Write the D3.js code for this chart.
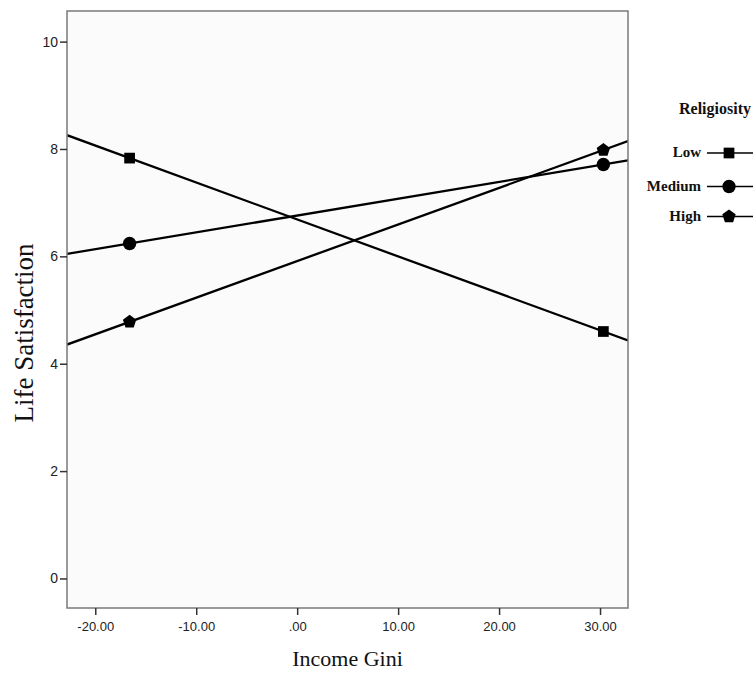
<!DOCTYPE html>
<html><head><meta charset="utf-8">
<script src="https://cdn.jsdelivr.net/npm/d3@7"></script>
<style>body{margin:0;background:#fff}svg{display:block}</style>
</head><body>
<svg id="c" width="753" height="675"></svg>
<script>
const groups = ["Low", "Medium", "High"];
const xPoints = [-16.6, 30.33];
const lowValues = [7.83, 4.60];
const mediumValues = [6.24, 7.71];
const highValues = [4.78, 7.98];
const xTicks = [-20, -10, 0, 10, 20, 30];
const xTickLabels = ["-20.00", "-10.00", ".00", "10.00", "20.00", "30.00"];
const yTicks = [0, 2, 4, 6, 8, 10];
const seriesValues = [lowValues, mediumValues, highValues];
const markerTypes = [d3.symbolSquare, d3.symbolCircle, "pentagon"];

const svg = d3.select("#c");
const m = {l: 67, r: 628, t: 11, b: 608};
const x = d3.scaleLinear().domain([-22.8, 32.77]).range([m.l, m.r]);
const y = d3.scaleLinear().domain([-0.55, 10.57]).range([m.b, m.t]);

svg.append("rect").attr("x", m.l).attr("y", m.t).attr("width", m.r - m.l).attr("height", m.b - m.t)
  .attr("fill", "#fbfbfb");

svg.append("defs").append("clipPath").attr("id", "clip").append("rect")
  .attr("x", m.l).attr("y", m.t).attr("width", m.r - m.l).attr("height", m.b - m.t);

function pentagon(r) {
  const pts = d3.range(5).map(i => {
    const a = -Math.PI / 2 + i * 2 * Math.PI / 5;
    return [r * Math.cos(a), r * Math.sin(a)];
  });
  return "M" + pts.map(p => p.join(",")).join("L") + "Z";
}
function markerPath(t, sizeScale) {
  if (t === "pentagon") return pentagon(7 * sizeScale);
  return d3.symbol().type(t).size((t === d3.symbolCircle ? 140 : 115) * sizeScale * sizeScale)();
}

// lines
const g = svg.append("g").attr("clip-path", "url(#clip)");
const [xd0, xd1] = x.domain();
seriesValues.forEach((vals, i) => {
  const slope = (vals[1] - vals[0]) / (xPoints[1] - xPoints[0]);
  const f = xv => vals[0] + slope * (xv - xPoints[0]);
  g.append("line")
    .attr("x1", x(xd0)).attr("y1", y(f(xd0)))
    .attr("x2", x(xd1)).attr("y2", y(f(xd1)))
    .attr("stroke", "#000").attr("stroke-width", 2.3);
  xPoints.forEach((xv, j) => {
    g.append("path").attr("d", markerPath(markerTypes[i], 1))
      .attr("transform", `translate(${x(xv)},${y(vals[j])})`)
      .attr("fill", "#000");
  });
});

// frame
svg.append("rect").attr("x", m.l).attr("y", m.t).attr("width", m.r - m.l).attr("height", m.b - m.t)
  .attr("fill", "none").attr("stroke", "#7a7a7a").attr("stroke-width", 1.5);

// axes
const yAxis = d3.axisLeft(y).tickValues(yTicks).tickSize(7).tickPadding(2).tickFormat(d3.format("d"));
const ya = svg.append("g").attr("transform", `translate(${m.l},0)`).call(yAxis);
ya.select(".domain").remove();
ya.selectAll("line").attr("stroke", "#333").attr("stroke-width", 1.5);
ya.selectAll("text").attr("font-family", "Liberation Sans, Arial, sans-serif").attr("font-size", 14).attr("fill", "#222");

const xAxis = d3.axisBottom(x).tickValues(xTicks).tickSize(7).tickPadding(7).tickFormat((d, i) => xTickLabels[i]);
const xa = svg.append("g").attr("transform", `translate(0,${m.b})`).call(xAxis);
xa.select(".domain").remove();
xa.selectAll("line").attr("stroke", "#333").attr("stroke-width", 1.5);
xa.selectAll("text").attr("font-family", "Liberation Sans, Arial, sans-serif").attr("font-size", 13).attr("fill", "#222");

// axis titles
svg.append("text").attr("x", (m.l + m.r) / 2).attr("y", 666).attr("text-anchor", "middle")
  .attr("font-family", "Liberation Serif, Times New Roman, serif").attr("font-size", 22).attr("fill", "#111")
  .text("Income Gini");
svg.append("text").attr("transform", `translate(33,333) rotate(-90)`).attr("text-anchor", "middle")
  .attr("font-family", "Liberation Serif, Times New Roman, serif").attr("font-size", 27).attr("fill", "#111")
  .text("Life Satisfaction");

// legend
const lg = svg.append("g");
lg.append("text").attr("x", 751).attr("y", 114).attr("text-anchor", "end")
  .attr("font-family", "Liberation Serif, Times New Roman, serif").attr("font-size", 16).attr("font-weight", "bold").attr("fill", "#111")
  .text("Religiosity");
const legendY = [153, 186.5, 216.5];
groups.forEach((name, i) => {
  lg.append("text").attr("x", 701).attr("y", legendY[i] + 4).attr("text-anchor", "end")
    .attr("font-family", "Liberation Serif, Times New Roman, serif").attr("font-size", 15).attr("font-weight", "bold").attr("fill", "#111")
    .text(name);
  lg.append("line").attr("x1", 707).attr("x2", 753).attr("y1", legendY[i]).attr("y2", legendY[i])
    .attr("stroke", "#000").attr("stroke-width", 1.5);
  lg.append("path").attr("d", markerPath(markerTypes[i], 1))
    .attr("transform", `translate(729,${legendY[i]})`).attr("fill", "#000");
});
</script>
</body></html>
